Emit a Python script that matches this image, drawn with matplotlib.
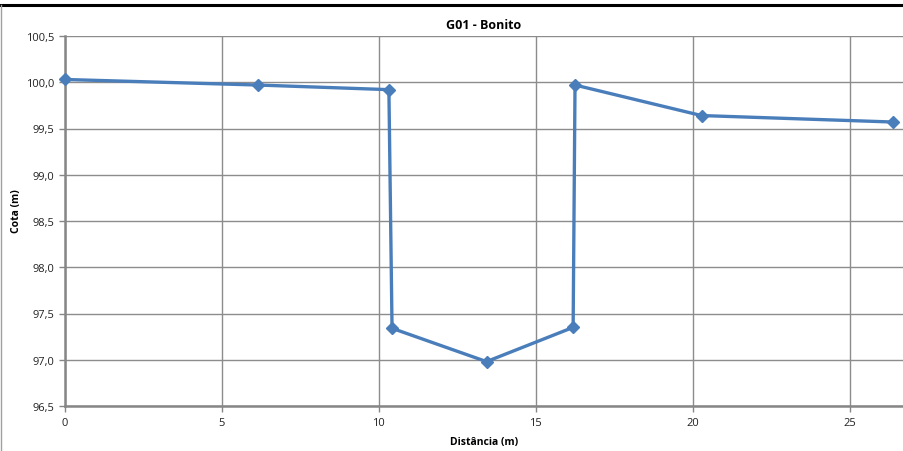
import matplotlib
matplotlib.use("Agg")
import matplotlib.pyplot as plt
from matplotlib.lines import Line2D

# Cross-section profile: distance along the section vs. elevation
distancia = [0.0, 6.15, 10.32, 10.42, 13.43, 16.19, 16.25, 20.28, 26.38]
cota = [100.03, 99.97, 99.92, 97.34, 96.98, 97.35, 99.97, 99.64, 99.57]

x_ticks = [0, 5, 10, 15, 20, 25]
y_ticks = [96.5, 97.0, 97.5, 98.0, 98.5, 99.0, 99.5, 100.0, 100.5]

plt.rcParams['font.family'] = ['Open Sans', 'DejaVu Sans']

fig = plt.figure(figsize=(9.04, 4.52), dpi=100)
ax = fig.add_axes([65 / 904, 1 - 407 / 452, (903 - 65) / 904, (407 - 37) / 452])

ax.plot(distancia, cota, color='#4a7ebb', linewidth=2.4, marker='D',
        markersize=6, markerfacecolor='#4a7ebb', markeredgecolor='#4a7ebb',
        zorder=3, clip_on=False)

ax.set_xlim(0, 26.7)
ax.set_ylim(96.5, 100.5)
ax.set_xticks(x_ticks)
ax.set_yticks(y_ticks)
ax.set_xticklabels([str(v) for v in x_ticks])
ax.set_yticklabels([f"{v:.1f}".replace('.', ',') for v in y_ticks])

ax.grid(True, color='#8c8c8c', linewidth=1.0)
ax.set_axisbelow(True)
for side in ['top', 'right']:
    ax.spines[side].set_visible(False)
for side in ['left', 'bottom']:
    ax.spines[side].set_color('#868686')
    ax.spines[side].set_linewidth(1.8)

ax.tick_params(axis='both', colors='#868686', labelcolor='#222222',
               labelsize=8, length=4, width=1)
ax.tick_params(axis='x', pad=4)

ax.set_title('G01 - Bonito', fontsize=9, fontweight='bold', pad=6)
ax.set_xlabel('Distância (m)', fontsize=7.5, fontweight='bold', labelpad=6)
ax.set_ylabel('Cota (m)', fontsize=7.5, fontweight='bold')
ax.yaxis.set_label_coords((22 - 65) / 838, 0.53)

# Frame edges of the chart area
fig.add_artist(Line2D([0, 1], [1 - 5.5 / 452] * 2, transform=fig.transFigure,
                      color='black', linewidth=2.2))
fig.add_artist(Line2D([1.5 / 904] * 2, [0, 1 - 6 / 452], transform=fig.transFigure,
                      color='#a0a0a0', linewidth=1.0))

fig.savefig('out.png', dpi=100)
